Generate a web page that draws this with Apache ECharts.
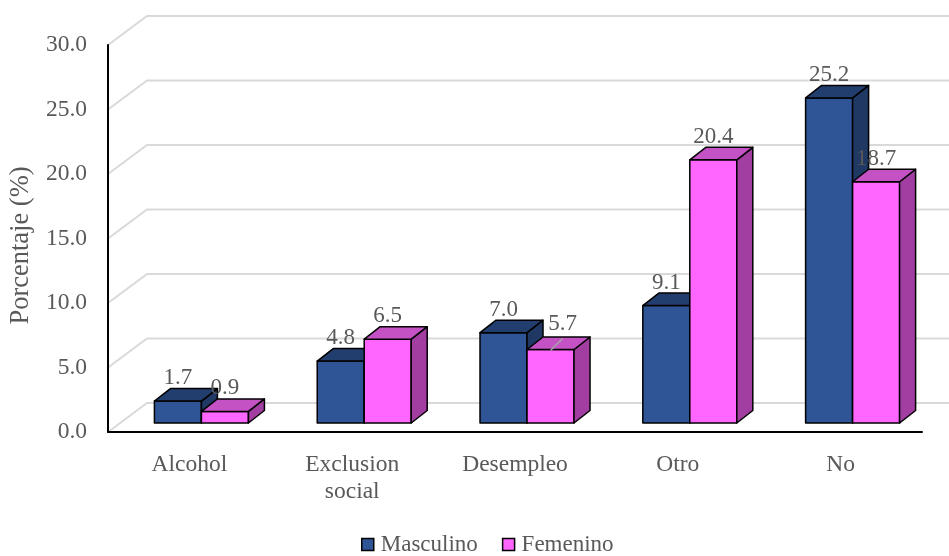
<!DOCTYPE html>
<html>
<head>
<meta charset="utf-8">
<script src="https://cdn.jsdelivr.net/npm/echarts@6/dist/echarts.min.js"></script>
<style>
  html, body { margin: 0; padding: 0; background: #fff; }
  #chart { width: 949px; height: 556px; }
</style>
</head>
<body>
<div id="chart"></div>
<script>
// Data
const categories = ['Alcohol', 'Exclusion\nsocial', 'Desempleo', 'Otro', 'No'];
const masculino = [1.7, 4.8, 7.0, 9.1, 25.2];
const femenino = [0.9, 6.5, 5.7, 20.4, 18.7];
const yTicks = [0, 5, 10, 15, 20, 25, 30];

// Pseudo-3D geometry (pixels)
const WALL = { dx: 39, dy: -29 };     // back wall offset from front plane
const ROW = { dx: 12, dy: -9 };       // bar front faces sit a little behind the axis plane
const DEPTH = { dx: 16, dy: -12.5 };  // bar thickness
const BAR_W = 47;
const FONT = '"Liberation Serif", "Times New Roman", serif';
const TXT = '#595959';

// per-label tweaks: [seriesIndex, categoryIndex] -> shifted label with leader line
const labelShift = { '1-2': { dx: 12, dy: -3 } };

const palette = [
  { front: '#2F5597', top: '#223E6E', side: '#1F3864' },
  { front: '#FF66FF', top: '#C452C4', side: '#A23EA2' }
];

function barRenderer(seriesIdx) {
  const c = palette[seriesIdx];
  return function (params, api) {
    const idx = api.value(0);
    const val = api.value(1);
    const top = api.coord([idx, val]);
    const base = api.coord([idx, 0]);
    const x0 = top[0] + ROW.dx + (seriesIdx === 0 ? -BAR_W : 0);
    const x1 = x0 + BAR_W;
    const yb = base[1] + ROW.dy;
    const yt = top[1] + ROW.dy;
    const stroke = { stroke: '#000', lineWidth: 1.5, lineJoin: 'round' };
    const children = [
      { type: 'polygon', shape: { points: [[x0, yb], [x1, yb], [x1, yt], [x0, yt]] },
        style: Object.assign({ fill: c.front }, stroke) },
      { type: 'polygon', shape: { points: [[x1, yb], [x1 + DEPTH.dx, yb + DEPTH.dy], [x1 + DEPTH.dx, yt + DEPTH.dy], [x1, yt]] },
        style: Object.assign({ fill: c.side }, stroke) },
      { type: 'polygon', shape: { points: [[x0, yt], [x1, yt], [x1 + DEPTH.dx, yt + DEPTH.dy], [x0 + DEPTH.dx, yt + DEPTH.dy]] },
        style: Object.assign({ fill: c.top }, stroke) }
    ];
    const cx = (x0 + x1) / 2;
    const shift = labelShift[seriesIdx + '-' + idx];
    let ly = yt - 23;
    let lx = cx;
    if (shift) {
      lx += shift.dx;
      ly += shift.dy;
      children.push({ type: 'line', shape: { x1: lx, y1: ly + 15, x2: cx, y2: yt + 1 },
        style: { stroke: '#A6A6A6', lineWidth: 1.5 } });
    }
    children.push({ type: 'text', style: {
      text: val.toFixed(1), x: lx, y: ly, align: 'center', verticalAlign: 'middle',
      fill: TXT, font: '23px ' + FONT } });
    return { type: 'group', children: children };
  };
}

function wallRenderer(params, api) {
  const cs = params.coordSys;
  const y = api.coord([0, api.value(0)])[1];
  const xl = cs.x;
  const xr = cs.x + cs.width + WALL.dx + 40;
  return {
    type: 'polyline',
    shape: { points: [[xl, y], [xl + WALL.dx, y + WALL.dy], [xr, y + WALL.dy]] },
    style: { stroke: '#D9D9D9', lineWidth: 2, fill: null }
  };
}

const chart = echarts.init(document.getElementById('chart'), null, { renderer: 'canvas' });
chart.setOption({
  animation: false,
  backgroundColor: '#fff',
  textStyle: { fontFamily: FONT },
  grid: { left: 108, right: 27, top: 45, bottom: 124, containLabel: false },
  legend: {
    top: 533, left: 361, padding: 0, itemGap: 24, itemWidth: 12, itemHeight: 12,
    icon: 'rect',
    textStyle: { color: TXT, fontSize: 23, fontFamily: FONT, padding: [0, 0, 0, 2] },
    itemStyle: { borderColor: '#000', borderWidth: 1.5 },
    data: [
      { name: 'Masculino', itemStyle: { color: palette[0].front } },
      { name: 'Femenino', itemStyle: { color: palette[1].front } }
    ]
  },
  xAxis: {
    type: 'category', data: categories,
    axisLine: { lineStyle: { color: '#000', width: 2 } },
    axisTick: { show: false },
    axisLabel: { color: TXT, fontSize: 23.5, fontFamily: FONT, margin: 19, lineHeight: 27, interval: 0 }
  },
  yAxis: {
    type: 'value', min: 0, max: 30, interval: 5,
    name: 'Porcentaje (%)', nameLocation: 'middle', nameGap: 70,
    nameTextStyle: { color: TXT, fontSize: 26.5, fontFamily: FONT, padding: [0, 14, 0, 0] },
    axisLine: { show: true, lineStyle: { color: '#000', width: 2 } },
    axisTick: { show: false },
    splitLine: { show: false },
    axisLabel: { color: TXT, fontSize: 23.5, fontFamily: FONT, margin: 21,
      formatter: v => v.toFixed(1) }
  },
  series: [
    { type: 'custom', name: 'wall', silent: true, z: 0, clip: false,
      renderItem: wallRenderer, data: yTicks.map(v => [v]), encode: { y: 0 } },
    { type: 'custom', name: 'Masculino', z: 2, itemStyle: { color: palette[0].front },
      renderItem: barRenderer(0), data: masculino.map((v, i) => [i, v]), encode: { x: 0, y: 1 } },
    { type: 'custom', name: 'Femenino', z: 3, itemStyle: { color: palette[1].front },
      renderItem: barRenderer(1), data: femenino.map((v, i) => [i, v]), encode: { x: 0, y: 1 } }
  ]
});
</script>
</body>
</html>
